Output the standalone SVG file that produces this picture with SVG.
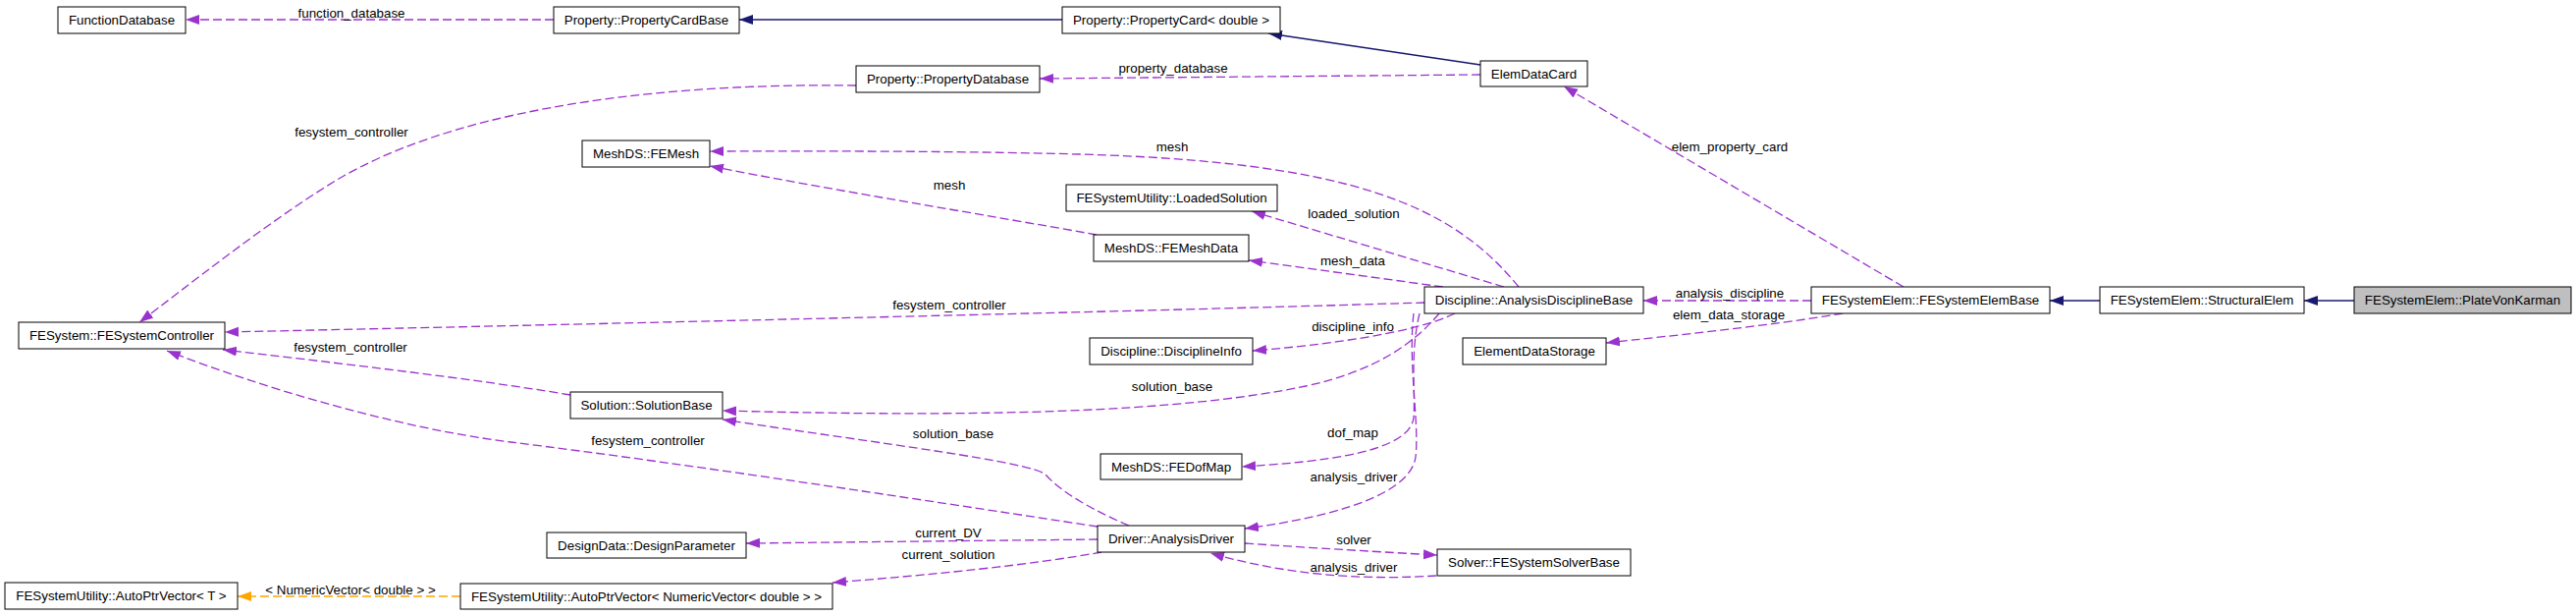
<svg xmlns="http://www.w3.org/2000/svg" width="2624" height="627" viewBox="0 0 2624 627">
<style>
text{font-family:"Liberation Sans",Arial,Helvetica,sans-serif;font-size:13.33px;fill:#000;text-anchor:middle}
.node rect{fill:#fff;stroke:#000;stroke-width:1}
.node.grey rect{fill:#bfbfbf}
.e{fill:none;stroke:#9a32cd;stroke-width:1.3;stroke-dasharray:9,4;marker-end:url(#ap)}
.i{fill:none;stroke:#191970;stroke-width:1.3;marker-end:url(#an)}
.t{fill:none;stroke:#ffa500;stroke-width:1.3;stroke-dasharray:9,4;marker-end:url(#ao)}
</style>
<defs>
<marker id="ap" markerUnits="userSpaceOnUse" markerWidth="16" markerHeight="12" refX="14" refY="5" orient="auto"><path d="M0,0 L14,5 L0,10 z" fill="#9a32cd" stroke="none"/></marker>
<marker id="an" markerUnits="userSpaceOnUse" markerWidth="16" markerHeight="12" refX="14" refY="5" orient="auto"><path d="M0,0 L14,5 L0,10 z" fill="#191970" stroke="none"/></marker>
<marker id="ao" markerUnits="userSpaceOnUse" markerWidth="16" markerHeight="12" refX="14" refY="5" orient="auto"><path d="M0,0 L14,5 L0,10 z" fill="#ffa500" stroke="none"/></marker>
</defs>
<rect width="2624" height="627" fill="#fff"/>
<g id="connectors">
<path class="e" d="M564,20 L189,20"/>
<path class="i" d="M1082,20 L753,20"/>
<path class="i" d="M1508,66 L1292,34"/>
<path class="e" d="M1508,76 L1059,80"/>
<path class="e" d="M872,87 C640,84 450,118 340,185 C270,228 190,292 142,328"/>
<path class="e" d="M1547,292 C1480,210 1380,165 1100,157 C950,153 800,154 723,154"/>
<path class="e" d="M1117,239 C1000,218 850,194 723,169"/>
<path class="e" d="M1532,292 L1275,215"/>
<path class="e" d="M1470,292 L1272,265"/>
<path class="e" d="M1451,308 C1200,316 600,330 229,338"/>
<path class="e" d="M1845,306 L1674,306"/>
<path class="e" d="M1877,319 C1800,332 1700,342 1636,349"/>
<path class="e" d="M1939,292 L1593,88"/>
<path class="i" d="M2139,306 L2088,306"/>
<path class="i" d="M2398,306 L2347,306"/>
<path class="e" d="M1482,319 C1440,340 1340,352 1276,357"/>
<path class="e" d="M1466,319 C1440,350 1400,378 1330,393 C1200,420 1000,425 736,418"/>
<path class="e" d="M1446,319 C1436,360 1442,400 1440,425 C1436,460 1350,470 1265,475"/>
<path class="e" d="M1440,319 C1434,370 1446,430 1442,465 C1436,510 1330,530 1268,538"/>
<path class="e" d="M581,402 C480,385 330,368 227,356"/>
<path class="e" d="M1150,535 C1110,518 1080,500 1065,483 C1050,470 900,452 736,427"/>
<path class="e" d="M1118,536 C1000,518 700,472 520,450 C400,435 260,392 170,357"/>
<path class="e" d="M1118,549 L760,553"/>
<path class="e" d="M1122,562 C1050,575 950,585 848,593"/>
<path class="e" d="M1268,553 C1340,558 1410,562 1464,565"/>
<path class="e" d="M1463,586 C1400,590 1320,588 1233,563"/>
<path class="t" d="M469,607 L242,607"/>
<text x="358" y="18">function_database</text>
<text x="1195" y="74">property_database</text>
<text x="358" y="139">fesystem_controller</text>
<text x="1194" y="154">mesh</text>
<text x="1762" y="154">elem_property_card</text>
<text x="967" y="193">mesh</text>
<text x="1379" y="222">loaded_solution</text>
<text x="1378" y="270">mesh_data</text>
<text x="1762" y="303">analysis_discipline</text>
<text x="967" y="315">fesystem_controller</text>
<text x="1761" y="325">elem_data_storage</text>
<text x="1378" y="337">discipline_info</text>
<text x="357" y="358">fesystem_controller</text>
<text x="1194" y="398">solution_base</text>
<text x="1378" y="445">dof_map</text>
<text x="971" y="446">solution_base</text>
<text x="660" y="453">fesystem_controller</text>
<text x="1379" y="490">analysis_driver</text>
<text x="966" y="547">current_DV</text>
<text x="1379" y="554">solver</text>
<text x="966" y="569">current_solution</text>
<text x="1379" y="582">analysis_driver</text>
<text x="357" y="605">&lt; NumericVector&lt; double &gt; &gt;</text>
</g>
<g id="n1" class="node"><rect x="59" y="7" width="130" height="27"/><text x="124" y="25">FunctionDatabase</text></g>
<g id="n2" class="node"><rect x="564" y="7" width="189" height="27"/><text x="658.5" y="25">Property::PropertyCardBase</text></g>
<g id="n3" class="node"><rect x="1082" y="7" width="222" height="27"/><text x="1193" y="25">Property::PropertyCard&lt; double &gt;</text></g>
<g id="n4" class="node"><rect x="1508" y="62" width="109" height="26"/><text x="1562.5" y="79.5">ElemDataCard</text></g>
<g id="n5" class="node"><rect x="872" y="67" width="187" height="27"/><text x="965.5" y="85">Property::PropertyDatabase</text></g>
<g id="n6" class="node"><rect x="593" y="143" width="130" height="27"/><text x="658" y="161">MeshDS::FEMesh</text></g>
<g id="n7" class="node"><rect x="1086" y="188" width="215" height="27"/><text x="1193.5" y="206">FESystemUtility::LoadedSolution</text></g>
<g id="n8" class="node"><rect x="1114" y="239" width="158" height="27"/><text x="1193" y="257">MeshDS::FEMeshData</text></g>
<g id="n9" class="node"><rect x="1451" y="292" width="223" height="27"/><text x="1562.5" y="310">Discipline::AnalysisDisciplineBase</text></g>
<g id="n10" class="node"><rect x="1845" y="292" width="243" height="27"/><text x="1966.5" y="310">FESystemElem::FESystemElemBase</text></g>
<g id="n11" class="node"><rect x="2139" y="292" width="208" height="27"/><text x="2243" y="310">FESystemElem::StructuralElem</text></g>
<g id="n12" class="node grey"><rect x="2398" y="292" width="221" height="27"/><text x="2508.5" y="310">FESystemElem::PlateVonKarman</text></g>
<g id="n13" class="node"><rect x="19" y="328" width="210" height="27"/><text x="124" y="346">FESystem::FESystemController</text></g>
<g id="n14" class="node"><rect x="1110" y="344" width="166" height="27"/><text x="1193" y="362">Discipline::DisciplineInfo</text></g>
<g id="n15" class="node"><rect x="1490" y="344" width="146" height="27"/><text x="1563" y="362">ElementDataStorage</text></g>
<g id="n16" class="node"><rect x="581" y="399" width="155" height="27"/><text x="658.5" y="417">Solution::SolutionBase</text></g>
<g id="n17" class="node"><rect x="1121" y="462" width="144" height="26"/><text x="1193" y="479.5">MeshDS::FEDofMap</text></g>
<g id="n18" class="node"><rect x="1118" y="535" width="150" height="27"/><text x="1193" y="553">Driver::AnalysisDriver</text></g>
<g id="n19" class="node"><rect x="557" y="542" width="203" height="26"/><text x="658.5" y="559.5">DesignData::DesignParameter</text></g>
<g id="n20" class="node"><rect x="1464" y="559" width="197" height="27"/><text x="1562.5" y="577">Solver::FESystemSolverBase</text></g>
<g id="n21" class="node"><rect x="5" y="593" width="237" height="27"/><text x="123.5" y="611">FESystemUtility::AutoPtrVector&lt; T &gt;</text></g>
<g id="n22" class="node"><rect x="469" y="594" width="379" height="26"/><text x="658.5" y="611.5">FESystemUtility::AutoPtrVector&lt; NumericVector&lt; double &gt; &gt;</text></g>
</svg>
